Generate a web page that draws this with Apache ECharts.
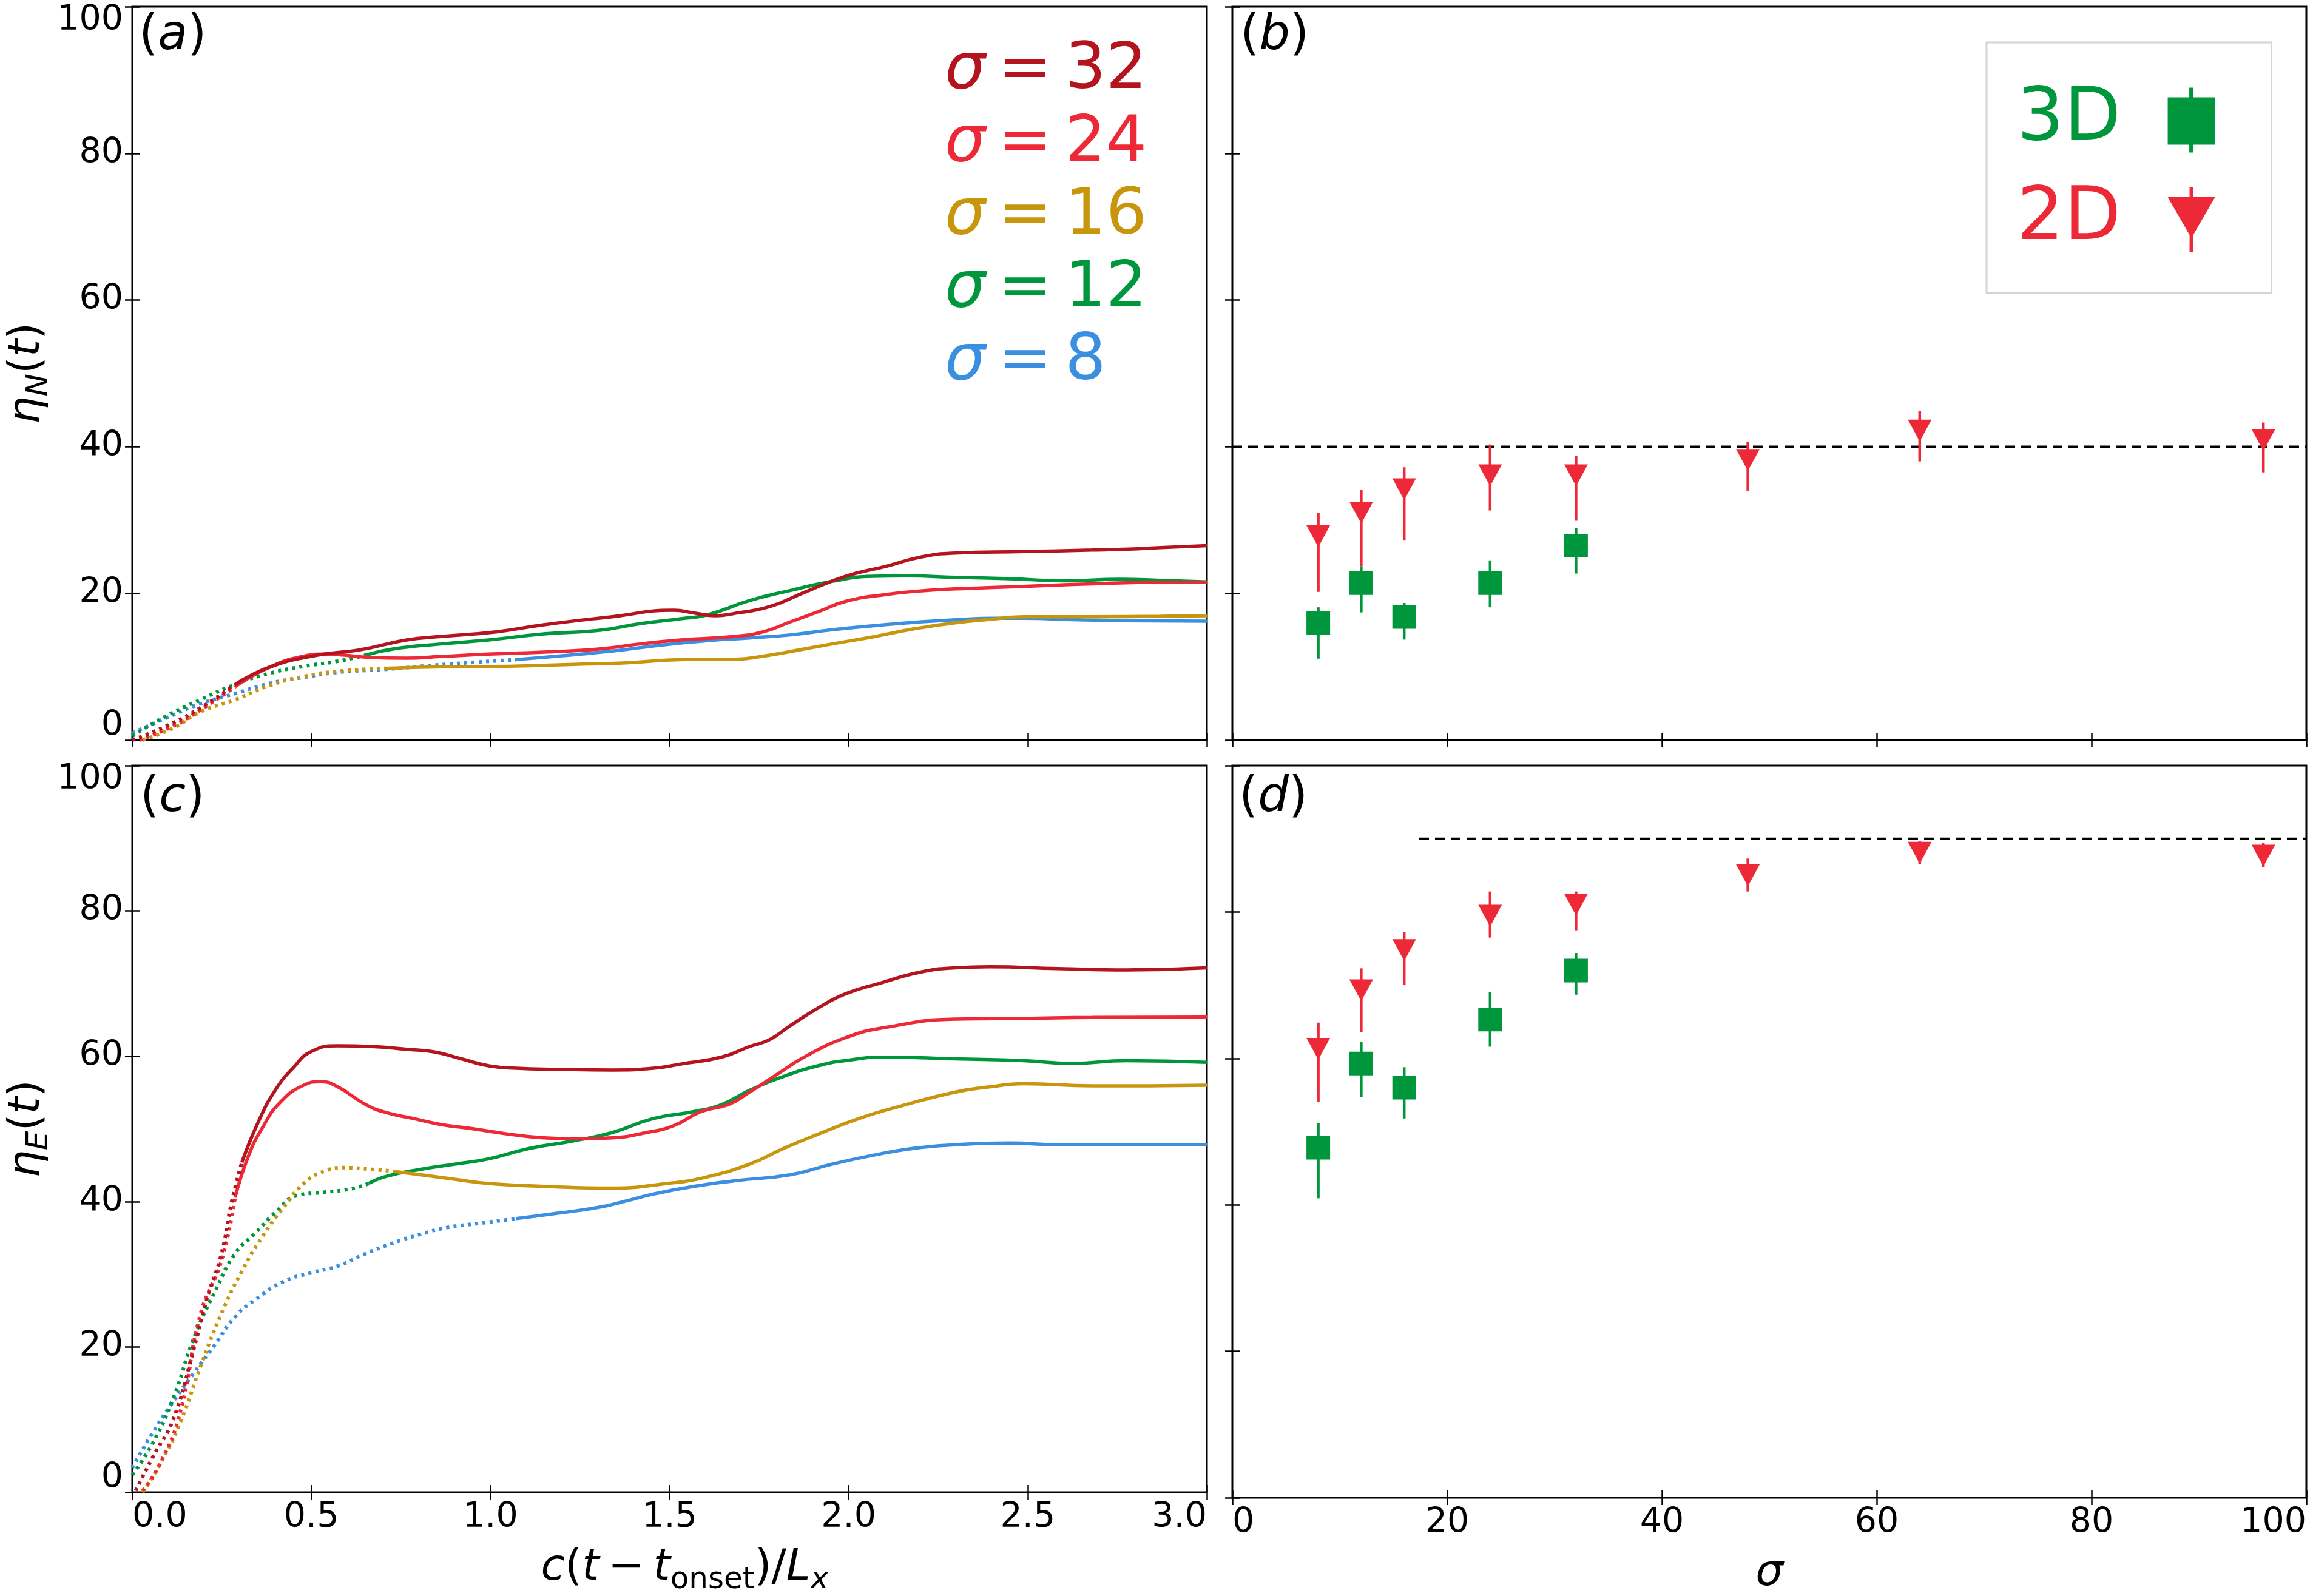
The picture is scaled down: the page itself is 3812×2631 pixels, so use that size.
<!DOCTYPE html>
<html><head><meta charset="utf-8">
<script src="https://cdn.jsdelivr.net/npm/echarts@6/dist/echarts.min.js"></script>
<style>html,body{margin:0;padding:0;background:#fff}#chart{width:3812px;height:2631px}</style>
</head><body><div id="chart"></div>
<script>
const FONT = 'DejaVu Sans';
const COLORS = ['#b3141e', '#ee2937', '#c8960c', '#00963b', '#3b8fe0'];
const GREEN = '#00963b', RED = '#ee2937';
const SIGMA_LINES = [32, 24, 16, 12, 8];
const LINE_NAMES = SIGMA_LINES.map(s => 'σ = ' + s);

// panel (a): eta_N(t) vs c(t - t_onset)/L_x
const etaN32 = [[0,0],[0.096,1.93],[0.191,4.41],[0.287,7.58],[0.383,9.93],[0.517,11.58],[0.632,12.27],[0.766,13.65],[0.861,14.12],[1.015,14.75],[1.149,15.72],[1.340,16.82],[1.512,17.7],[1.57,17.3],[1.627,16.96],[1.685,17.3],[1.780,18.2],[1.876,20.13],[1.991,22.33],[2.106,23.71],[2.201,24.95],[2.297,25.5],[2.489,25.7],[2.680,25.9],[2.795,26.06],[2.871,26.25],[3.0,26.5]];
const etaN24 = [[0.02,0],[0.115,1.93],[0.191,4.14],[0.287,7.28],[0.383,9.93],[0.479,11.44],[0.536,11.72],[0.593,11.58],[0.651,11.31],[0.766,11.17],[0.861,11.39],[0.995,11.72],[1.149,12.0],[1.302,12.41],[1.417,13.1],[1.531,13.65],[1.685,14.15],[1.761,14.75],[1.838,16.13],[1.915,17.5],[1.991,18.9],[2.106,19.85],[2.221,20.4],[2.335,20.68],[2.489,20.95],[2.680,21.3],[2.871,21.5],[3.0,21.5]];
const etaN16 = [[0.029,0],[0.115,1.65],[0.191,3.86],[0.287,5.51],[0.383,7.44],[0.479,8.68],[0.574,9.37],[0.708,9.79],[0.861,9.98],[1.053,10.06],[1.244,10.34],[1.378,10.53],[1.493,10.89],[1.589,11.03],[1.685,11.03],[1.761,11.44],[1.838,12.08],[1.953,13.1],[2.067,14.06],[2.182,15.16],[2.297,15.99],[2.412,16.54],[2.489,16.82],[2.680,16.82],[2.871,16.87],[3.0,16.95]];
const etaN12 = [[0,0.55],[0.096,3.31],[0.191,5.51],[0.287,7.58],[0.383,9.1],[0.479,10.06],[0.574,10.75],[0.651,11.58],[0.727,12.41],[0.861,13.1],[0.995,13.65],[1.149,14.48],[1.302,14.95],[1.417,15.86],[1.531,16.54],[1.608,17.1],[1.723,19.02],[1.838,20.4],[1.953,21.64],[2.067,22.33],[2.163,22.39],[2.297,22.19],[2.450,22.0],[2.603,21.72],[2.757,21.92],[2.871,21.78],[3.0,21.56]];
const etaN8 = [[0,0.96],[0.096,3.03],[0.191,4.96],[0.287,6.34],[0.383,7.72],[0.479,8.55],[0.574,9.24],[0.708,9.65],[0.842,10.2],[0.957,10.61],[1.072,10.97],[1.187,11.44],[1.340,12.13],[1.455,12.82],[1.608,13.56],[1.723,13.92],[1.838,14.34],[1.953,15.03],[2.067,15.58],[2.182,16.05],[2.297,16.4],[2.412,16.6],[2.489,16.6],[2.642,16.4],[2.776,16.27],[3.0,16.21]];
const solidFromN = [0.287, 0.287, 0.708, 0.651, 1.072];

// panel (c): eta_E(t)
const etaE32 = [[0.0096,0.22],[0.057,4.81],[0.115,10.13],[0.172,19.79],[0.211,27.03],[0.249,32.83],[0.278,40.08],[0.306,45.39],[0.354,51.19],[0.402,55.54],[0.450,58.44],[0.498,60.6],[0.574,61.43],[0.670,61.33],[0.766,60.95],[0.842,60.6],[0.919,59.64],[0.995,58.68],[1.072,58.34],[1.187,58.2],[1.340,58.1],[1.455,58.34],[1.531,58.92],[1.646,59.89],[1.723,61.33],[1.780,62.3],[1.838,64.24],[1.915,66.65],[1.991,68.58],[2.086,70.03],[2.201,71.58],[2.297,72.16],[2.393,72.3],[2.584,72.06],[2.776,71.87],[3.0,72.16]];
const etaE24 = [[0.029,0.21],[0.077,3.85],[0.134,11.09],[0.191,24.62],[0.249,31.87],[0.287,40.56],[0.325,46.36],[0.364,50.22],[0.412,53.6],[0.479,56.02],[0.526,56.5],[0.574,55.78],[0.651,53.37],[0.708,52.26],[0.785,51.43],[0.861,50.61],[0.957,49.98],[1.053,49.26],[1.149,48.77],[1.244,48.63],[1.340,48.77],[1.436,49.5],[1.512,50.46],[1.589,52.4],[1.665,53.36],[1.723,55.05],[1.799,57.47],[1.876,59.88],[1.991,62.54],[2.106,63.99],[2.297,65.1],[2.489,65.2],[2.680,65.34],[3.0,65.39]];
const etaE16 = [[0.029,0],[0.077,3.85],[0.134,9.64],[0.191,17.37],[0.249,24.62],[0.306,30.42],[0.364,35.25],[0.421,39.11],[0.479,42.49],[0.536,44.18],[0.593,44.67],[0.670,44.43],[0.727,44.18],[0.804,43.7],[0.900,43.07],[0.995,42.49],[1.149,42.1],[1.340,41.86],[1.493,42.49],[1.589,43.21],[1.723,45.15],[1.819,47.33],[1.914,49.26],[2.029,51.43],[2.144,53.12],[2.297,55.05],[2.393,55.78],[2.489,56.21],[2.680,55.92],[3.0,56.02]];
const etaE12 = [[0,2.41],[0.057,6.75],[0.115,13.03],[0.172,21.24],[0.230,27.52],[0.287,32.83],[0.345,35.73],[0.402,38.63],[0.459,40.81],[0.536,41.29],[0.613,41.77],[0.660,42.49],[0.708,43.46],[0.804,44.43],[0.900,45.15],[0.995,45.88],[1.110,47.33],[1.225,48.29],[1.340,49.5],[1.455,51.43],[1.570,52.4],[1.646,53.36],[1.723,55.3],[1.819,57.23],[1.914,58.68],[1.991,59.4],[2.106,59.88],[2.297,59.64],[2.489,59.4],[2.622,59.0],[2.776,59.4],[3.0,59.16]];
const etaE8 = [[0,3.37],[0.057,8.19],[0.115,12.54],[0.172,16.4],[0.230,20.27],[0.287,24.14],[0.345,26.55],[0.421,28.97],[0.498,30.18],[0.574,31.14],[0.651,32.83],[0.727,34.28],[0.804,35.49],[0.881,36.45],[0.957,36.94],[1.072,37.66],[1.187,38.39],[1.302,39.21],[1.378,40.08],[1.455,41.04],[1.570,42.11],[1.685,42.88],[1.838,43.7],[1.953,45.15],[2.067,46.36],[2.182,47.33],[2.297,47.81],[2.450,48.05],[2.584,47.81],[2.776,47.81],[3.0,47.81]];
const solidFromE = [0.306, 0.287, 0.727, 0.660, 1.072];

// panels (b), (d): final efficiencies vs sigma
const sigma3D = [8, 12, 16, 24, 32];
const etaN3D = [16.0, 21.4, 16.8, 21.4, 26.5];
const etaN3DLo = [11.1, 17.4, 13.7, 18.1, 22.7];
const etaN3DHi = [18.1, 23.7, 18.7, 24.5, 28.9];
const sigma2D = [8, 12, 16, 24, 32, 48, 64, 96];
const etaN2D = [27.8, 31.0, 34.2, 36.1, 36.1, 38.2, 42.2, 40.9];
const etaN2DLo = [20.2, 23.7, 27.2, 31.3, 29.9, 34.0, 38.0, 36.5];
const etaN2DHi = [31.0, 34.1, 37.2, 40.3, 38.8, 40.7, 44.9, 43.3];
const etaE3D = [47.8, 59.3, 56.0, 65.3, 72.0];
const etaE3DLo = [40.9, 54.7, 51.8, 61.6, 68.7];
const etaE3DHi = [51.2, 62.3, 58.8, 69.1, 74.4];
const etaE2D = [61.3, 69.3, 74.8, 79.5, 81.0, 85.0, 88.1, 87.7];
const etaE2DLo = [54.1, 63.6, 70.0, 76.5, 77.5, 82.8, 86.5, 86.1];
const etaE2DHi = [64.9, 72.3, 77.3, 82.8, 82.8, 87.3, 89.7, 89.4];
const refLineB = [[0, 40], [100, 40]];
const refLineD = [[17.4, 90], [100, 90]];

const timeTicks = [0, 3, 0.5];
const sigmaTicks = [0, 100, 20];
const etaTicks = [0, 100, 20];

const curvesN = [etaN32, etaN24, etaN16, etaN12, etaN8];
const curvesE = [etaE32, etaE24, etaE16, etaE12, etaE8];

const GRIDS = [
  {left: 218, top: 11, width: 1771, height: 1209},
  {left: 2031, top: 11, width: 1770, height: 1209},
  {left: 218, top: 1262, width: 1771, height: 1209},
  {left: 2031, top: 1262, width: 1770, height: 1209}
];

const tick = {show: true, inside: true, length: 12, lineStyle: {color: '#000', width: 2.5}};
const labelBase = {fontFamily: FONT, fontSize: 57, color: '#000'};
const nameStyle = (extra) => Object.assign({
  fontFamily: FONT, fontSize: 72, color: '#000',
  rich: {
    i: {fontFamily: FONT, fontSize: 72, fontStyle: 'italic', color: '#000', lineHeight: 90, verticalAlign: 'middle'},
    n: {fontFamily: FONT, fontSize: 72, color: '#000', lineHeight: 90, verticalAlign: 'middle'},
    s: {fontFamily: FONT, fontSize: 50, color: '#000', lineHeight: 90, verticalAlign: 'bottom'},
    si: {fontFamily: FONT, fontSize: 50, fontStyle: 'italic', color: '#000', lineHeight: 90, verticalAlign: 'bottom'}
  }
}, extra || {});

function xAxis(gi, pos, t, showLabel, name, namePad) {
  const o = {
    type: 'value', gridIndex: gi, position: pos, min: t[0], max: t[1], interval: t[2],
    axisLine: {show: false}, splitLine: {show: false}, axisTick: tick,
    axisLabel: Object.assign({show: showLabel, margin: 14, alignMinLabel: 'left', alignMaxLabel: 'right',
      formatter: t[2] < 1 ? (v => v.toFixed(1)) : (v => String(v))}, labelBase)
  };
  if (name) { o.name = name; o.nameLocation = 'middle'; o.nameGap = 80; o.nameTextStyle = nameStyle({padding: namePad || 0}); }
  return o;
}
function yAxis(gi, pos, showLabel, name) {
  const o = {
    type: 'value', gridIndex: gi, position: pos, min: etaTicks[0], max: etaTicks[1], interval: etaTicks[2],
    axisLine: {show: false}, splitLine: {show: false}, axisTick: tick,
    axisLabel: Object.assign({show: showLabel, margin: 15, lineHeight: 46, verticalAlignMinLabel: 'bottom', verticalAlignMaxLabel: 'top'}, labelBase)
  };
  if (name) { o.name = name; o.nameLocation = 'middle'; o.nameGap = 128; o.nameRotate = 90; o.nameTextStyle = nameStyle(); }
  return o;
}

const xAxes = [
  xAxis(0, 'bottom', timeTicks, false),
  xAxis(1, 'bottom', sigmaTicks, false),
  xAxis(2, 'bottom', timeTicks, true, '{i|c}{n|(}{i|t}{n|\u2009−\u2009}{i|t}{s|onset}{n|)/}{i|L}{si|x}', [0, 0, 0, 50]),
  xAxis(3, 'bottom', sigmaTicks, true, '{i|σ}'),
  xAxis(0, 'top', timeTicks, false),
  xAxis(1, 'top', sigmaTicks, false),
  xAxis(2, 'top', timeTicks, false),
  xAxis(3, 'top', sigmaTicks, false)
];
const yAxes = [
  yAxis(0, 'left', true, '{i|η}{si|N}{n|(}{i|t}{n|)}'),
  yAxis(1, 'left', false),
  yAxis(2, 'left', true, '{i|η}{si|E}{n|(}{i|t}{n|)}'),
  yAxis(3, 'left', false),
  yAxis(0, 'right', false), yAxis(1, 'right', false), yAxis(2, 'right', false), yAxis(3, 'right', false)
];

const series = [];
function addCurves(curves, splits, axisIdx) {
  curves.forEach((pts, i) => {
    const split = splits[i];
    const dotted = pts.filter(p => p[0] <= split);
    const solid = pts.filter(p => p[0] >= split);
    const common = {type: 'line', name: LINE_NAMES[i], xAxisIndex: axisIdx, yAxisIndex: axisIdx,
      symbol: 'none', showSymbol: false, smooth: 0.5, silent: true, z: 2 + (5 - i) * 0.01};
    series.push(Object.assign({}, common, {data: dotted, lineStyle: {color: COLORS[i], width: 6, type: [5, 7], cap: 'butt'}}));
    series.push(Object.assign({}, common, {data: solid, lineStyle: {color: COLORS[i], width: 5.5, type: 'solid'}}));
  });
}
addCurves(curvesN, solidFromN, 0);
addCurves(curvesE, solidFromE, 2);

function errorBars(name, xs, lo, hi, color, axisIdx) {
  return {
    type: 'custom', name: name, coordinateSystem: 'cartesian2d', xAxisIndex: axisIdx, yAxisIndex: axisIdx,
    silent: true, z: 3,
    data: xs.map((x, i) => [x, lo[i], hi[i]]),
    renderItem: (params, api) => {
      const p1 = api.coord([api.value(0), api.value(1)]);
      const p2 = api.coord([api.value(0), api.value(2)]);
      return {type: 'line', shape: {x1: p1[0], y1: p1[1], x2: p2[0], y2: p2[1]}, style: {stroke: color, lineWidth: 4.5}};
    }
  };
}
function refLine(data, axisIdx) {
  return {type: 'line', xAxisIndex: axisIdx, yAxisIndex: axisIdx, data: data, symbol: 'none', silent: true, z: 1,
    lineStyle: {color: '#000', width: 4, type: [16, 10]}};
}
series.push(refLine(refLineB, 1));
series.push(refLine(refLineD, 3));
[[1, etaN3D, etaN3DLo, etaN3DHi, etaN2D, etaN2DLo, etaN2DHi], [3, etaE3D, etaE3DLo, etaE3DHi, etaE2D, etaE2DLo, etaE2DHi]].forEach(d => {
  const ax = d[0];
  series.push(errorBars('3D', sigma3D, d[2], d[3], GREEN, ax));
  series.push({type: 'scatter', name: '3D', xAxisIndex: ax, yAxisIndex: ax, symbol: 'rect', symbolSize: 39, silent: true, z: 4,
    itemStyle: {color: GREEN, opacity: 1}, data: sigma3D.map((s, i) => [s, d[1][i]])});
  series.push(errorBars('2D', sigma2D, d[5], d[6], RED, ax));
  series.push({type: 'scatter', name: '2D', xAxisIndex: ax, yAxisIndex: ax, symbol: 'triangle', symbolRotate: 180, symbolSize: [39, 36], silent: true, z: 4,
    itemStyle: {color: RED, opacity: 1}, data: sigma2D.map((s, i) => [s, d[4][i]])});
});

const richSigma = {};
COLORS.forEach((c, i) => {
  richSigma['i' + i] = {fontFamily: FONT, fontSize: 106, fontStyle: 'italic', color: c, lineHeight: 120};
  richSigma['n' + i] = {fontFamily: FONT, fontSize: 106, color: c, lineHeight: 120};
});

const SQ_ICON = 'path://M0,16L78,16L78,94L0,94Z M35.5,0L42.5,0L42.5,107L35.5,107Z';
const TRI_ICON = 'path://M0,16L78,16L39,83.5Z M36,0L42,0L42,106L36,106Z';

const panelTitle = (letter, left, top) => ({
  text: '{n|(}{i|' + letter + '}{n|)}', left: left, top: top, padding: 0,
  textStyle: {fontWeight: 'normal', rich: {
    n: {fontFamily: FONT, fontSize: 80, fontWeight: 'normal', color: '#000', lineHeight: 92},
    i: {fontFamily: FONT, fontSize: 80, fontWeight: 'normal', fontStyle: 'italic', color: '#000', lineHeight: 92}
  }}
});

const option = {
  animation: false,
  backgroundColor: '#fff',
  grid: GRIDS.map(g => Object.assign({show: true, borderColor: '#000', borderWidth: 3, backgroundColor: 'rgba(0,0,0,0)'}, g)),
  xAxis: xAxes,
  yAxis: yAxes,
  title: [panelTitle('a', 229, 14), panelTitle('b', 2044, 14), panelTitle('c', 231, 1270), panelTitle('d', 2042, 1270)],
  legend: [
    {orient: 'vertical', left: 1551, top: 57, padding: 0, itemGap: 0, itemWidth: 0, itemHeight: 0,
      selectedMode: false, itemStyle: {opacity: 0}, lineStyle: {opacity: 0},
      data: LINE_NAMES,
      formatter: n => { const i = LINE_NAMES.indexOf(n); return '{i' + i + '|σ}{n' + i + '|\u2009=\u2009' + SIGMA_LINES[i] + '}'; },
      textStyle: {fontFamily: FONT, fontSize: 106, lineHeight: 120, rich: richSigma}},
    {orient: 'vertical', left: 3274, top: 70, padding: [67, 93, 60, 50], itemGap: 42, itemWidth: 78, itemHeight: 107,
      align: 'right', backgroundColor: '#fff', borderColor: '#d4d4d4', borderWidth: 3, borderRadius: 0,
      selectedMode: false,
      data: [{name: '3D', icon: SQ_ICON, itemStyle: {color: GREEN}}, {name: '2D', icon: TRI_ICON, itemStyle: {color: RED}}],
      formatter: n => n === '3D' ? '{g|3D}' : '{r|2D}',
      textStyle: {rich: {
        g: {fontFamily: FONT, fontSize: 122, color: GREEN, lineHeight: 110, padding: [0, 72, 0, 0]},
        r: {fontFamily: FONT, fontSize: 122, color: RED, lineHeight: 110, padding: [0, 72, 0, 0]}
      }}}
  ],
  series: series
};

const chart = echarts.init(document.getElementById('chart'), null, {renderer: 'canvas'});
chart.setOption(option);
</script></body></html>
